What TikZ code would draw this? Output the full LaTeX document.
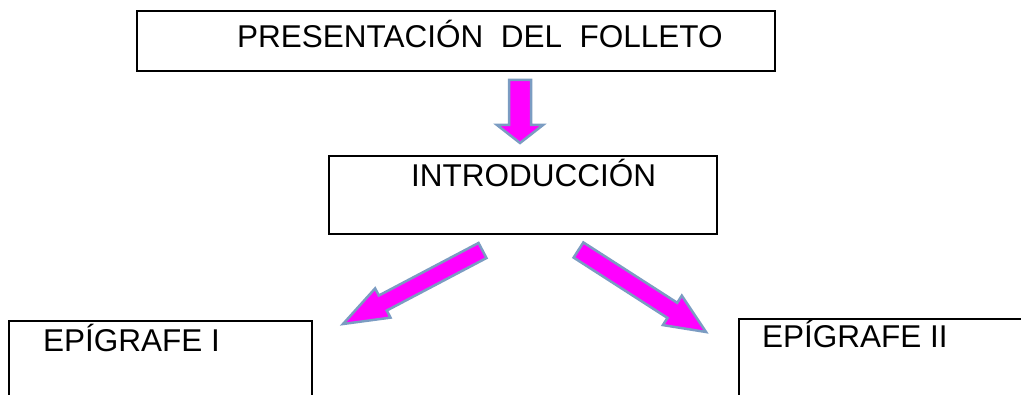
\documentclass[tikz,border=0pt]{standalone}
\usepackage{fontspec}
\setmainfont{Liberation Sans}
\usetikzlibrary{calc}
\definecolor{arrowfill}{HTML}{FF00FF}
\definecolor{arrowline}{HTML}{7B9CC2}
\tikzset{
  boxshape/.style={draw=black, line width=1.8pt, rectangle, inner sep=0pt},
  boxtext/.style={anchor=base west, inner sep=0pt, font=\fontsize{31.5}{36}\selectfont},
  fatarrowstyle/.style={fill=arrowfill, draw=arrowline, line width=2.5pt, line join=miter}
}
\newcommand\fatarrow[5]{%
  \path ($(#2)!#5!(#1)$) coordinate (hb);
  \draw[fatarrowstyle]
    ($(#1)!#3!90:(#2)$) -- ($(hb)!#3!-90:(#1)$) -- ($(hb)!#4!-90:(#1)$) -- (#2)
    -- ($(hb)!#4!90:(#1)$) -- ($(hb)!#3!90:(#1)$) -- ($(#1)!#3!-90:(#2)$) -- cycle;
}
\begin{document}
\begin{tikzpicture}[x=1pt,y=-1pt]
\useasboundingbox (0,0) rectangle (1021,395);
\begin{scope}
\clip (0,0) rectangle (1021,395);
% boxes
\draw[boxshape] (137,11) rectangle (775,71);
\node[boxshape, draw=none, minimum width=638pt, minimum height=60pt] (top) at (456,41) {};
\draw[boxshape] (329,156) rectangle (717,234);
\node[boxshape, draw=none, minimum width=388pt, minimum height=78pt] (intro) at (523,195) {};
\draw[boxshape] (9,321) rectangle (312,420);
\node[boxshape, draw=none, minimum width=303pt, minimum height=99pt] (epi1) at (160.5,370.5) {};
\draw[boxshape] (739,319) rectangle (1040,420);
\node[boxshape, draw=none, minimum width=301pt, minimum height=101pt] (epi2) at (889.5,369.5) {};
\end{scope}
% texts
\node[boxtext] (ttop) at (237,48) {PRESENTACIÓN\ \ DEL\ \ FOLLETO};
\node[boxtext] (tintro) at (411,187) {INTRODUCCIÓN};
\node[boxtext] (tepi1) at (43,352) {EPÍGRAFE I};
\node[boxtext] (tepi2) at (762,348) {EPÍGRAFE II};
% arrows
\coordinate (d1) at (520,80);
\coordinate (d2) at (520,143);
\fatarrow{d1}{d2}{11pt}{23pt}{18pt}
\coordinate (l1) at (482.5,250.5);
\coordinate (l2) at (343,324);
\fatarrow{l1}{l2}{8.5pt}{16.5pt}{45pt}
\coordinate (r1) at (578.5,250);
\coordinate (r2) at (706,332);
\fatarrow{r1}{r2}{9pt}{17.5pt}{40pt}
\end{tikzpicture}
\end{document}
